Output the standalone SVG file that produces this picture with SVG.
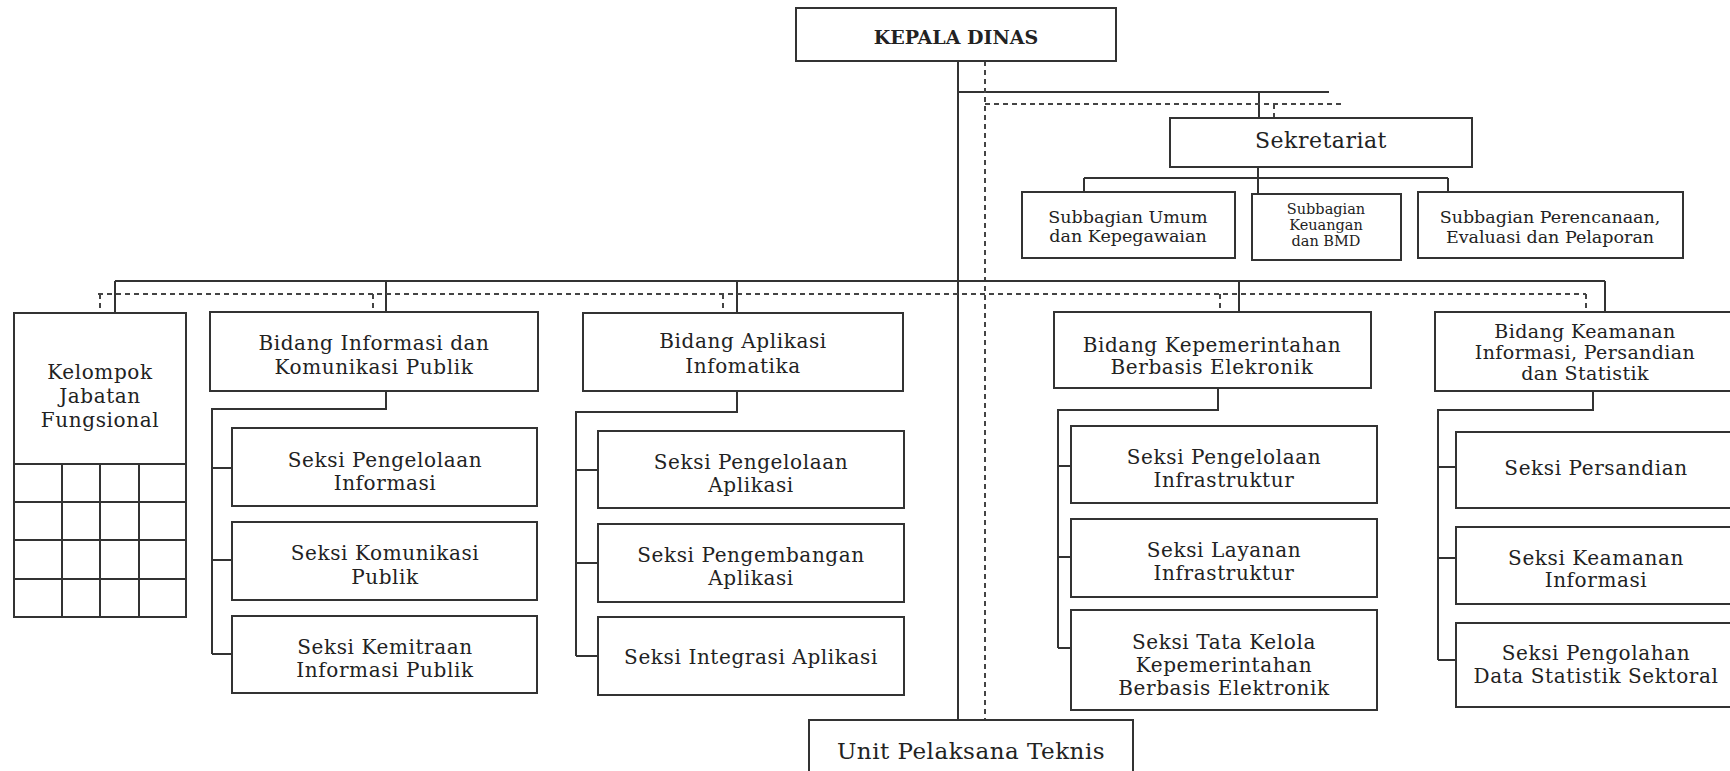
<svg xmlns="http://www.w3.org/2000/svg" width="1730" height="771" viewBox="0 0 1730 771">
<style>
rect.b{fill:#fff;stroke:#333;stroke-width:2}
.s{stroke:#333;stroke-width:2;fill:none}
.d{stroke:#444;stroke-width:2;fill:none;stroke-dasharray:5 4}
text{font-family:"DejaVu Serif","Liberation Serif",serif;fill:#222;text-anchor:middle}
.t20{font-size:20px;letter-spacing:0.6px}
.t19{font-size:19px;letter-spacing:0.4px}
.t17{font-size:17.5px}
.t15{font-size:14.5px}
.hd{font-size:19px;font-weight:bold}
.big{font-size:22px;letter-spacing:0.5px}
</style>
<rect width="1730" height="771" fill="#fff"/>
<g id="connectors">
<path class="s" d="M958 61V720M958 92H1329M1259 92V118M1258 167V194M1084 178H1448M1084 178V192M1448 178V192"/>
<path class="d" d="M985 61V720M985 104H1344M1274 104V118"/>
<path class="s" d="M115 281H1605M115 281V313M386 281V312M737 281V313M1239 281V312M1605 281V312"/>
<path class="d" d="M98 294H1586M100 294V313M373 294V312M723 294V313M1220 294V312M1586 294V312"/>
<path class="s" d="M386 391V409H212V654M212 468H232M212 560H232M212 654H232"/>
<path class="s" d="M737 391V412H576V656M576 470H598M576 563H598M576 656H598"/>
<path class="s" d="M1218 388V410H1058V648M1058 466H1071M1058 557H1071M1058 648H1071"/>
<path class="s" d="M1593 391V410H1438V660M1438 467H1456M1438 558H1456M1438 660H1456"/>
</g>
<g id="kepala-dinas"><rect class="b" x="796" y="8" width="320" height="53"/><text class="hd" x="956" y="44">KEPALA DINAS</text></g>
<g id="sekretariat"><rect class="b" x="1170" y="118" width="302" height="49"/><text class="big" x="1321" y="148">Sekretariat</text></g>
<g id="subbagian-umum"><rect class="b" x="1022" y="192" width="213" height="66"/><text class="t17" x="1128" y="223">Subbagian Umum</text><text class="t17" x="1128" y="242">dan Kepegawaian</text></g>
<g id="subbagian-keuangan"><rect class="b" x="1252" y="194" width="149" height="66"/><text class="t15" x="1326" y="214">Subbagian</text><text class="t15" x="1326" y="230">Keuangan</text><text class="t15" x="1326" y="246">dan BMD</text></g>
<g id="subbagian-perencanaan"><rect class="b" x="1418" y="192" width="265" height="66"/><text class="t17" x="1550" y="223">Subbagian Perencanaan,</text><text class="t17" x="1550" y="243">Evaluasi dan Pelaporan</text></g>
<g id="kelompok-jabatan-fungsional"><rect class="b" x="14" y="313" width="172" height="304"/><path class="s" d="M14 464H186M14 502H186M14 540H186M14 579H186M62 464V617M100 464V617M139 464V617"/><text class="t20" x="100" y="379">Kelompok</text><text class="t20" x="100" y="403">Jabatan</text><text class="t20" x="100" y="427">Fungsional</text></g>
<g id="bidang-informasi"><rect class="b" x="210" y="312" width="328" height="79"/><text class="t20" x="374" y="350">Bidang Informasi dan</text><text class="t20" x="374" y="374">Komunikasi Publik</text></g>
<g id="seksi-pengelolaan-informasi"><rect class="b" x="232" y="428" width="305" height="78"/><text class="t20" x="385" y="467">Seksi Pengelolaan</text><text class="t20" x="385" y="490">Informasi</text></g>
<g id="seksi-komunikasi-publik"><rect class="b" x="232" y="522" width="305" height="78"/><text class="t20" x="385" y="560">Seksi Komunikasi</text><text class="t20" x="385" y="584">Publik</text></g>
<g id="seksi-kemitraan"><rect class="b" x="232" y="616" width="305" height="77"/><text class="t20" x="385" y="654">Seksi Kemitraan</text><text class="t20" x="385" y="677">Informasi Publik</text></g>
<g id="bidang-aplikasi"><rect class="b" x="583" y="313" width="320" height="78"/><text class="t20" x="743" y="348">Bidang Aplikasi</text><text class="t20" x="743" y="373">Infomatika</text></g>
<g id="seksi-pengelolaan-aplikasi"><rect class="b" x="598" y="431" width="306" height="77"/><text class="t20" x="751" y="469">Seksi Pengelolaan</text><text class="t20" x="751" y="492">Aplikasi</text></g>
<g id="seksi-pengembangan-aplikasi"><rect class="b" x="598" y="524" width="306" height="78"/><text class="t20" x="751" y="562">Seksi Pengembangan</text><text class="t20" x="751" y="585">Aplikasi</text></g>
<g id="seksi-integrasi-aplikasi"><rect class="b" x="598" y="617" width="306" height="78"/><text class="t20" x="751" y="664">Seksi Integrasi Aplikasi</text></g>
<g id="bidang-kepemerintahan"><rect class="b" x="1054" y="312" width="317" height="76"/><text class="t20" x="1212" y="352">Bidang Kepemerintahan</text><text class="t20" x="1212" y="374">Berbasis Elekronik</text></g>
<g id="seksi-pengelolaan-infrastruktur"><rect class="b" x="1071" y="426" width="306" height="77"/><text class="t20" x="1224" y="464">Seksi Pengelolaan</text><text class="t20" x="1224" y="487">Infrastruktur</text></g>
<g id="seksi-layanan-infrastruktur"><rect class="b" x="1071" y="519" width="306" height="78"/><text class="t20" x="1224" y="557">Seksi Layanan</text><text class="t20" x="1224" y="580">Infrastruktur</text></g>
<g id="seksi-tata-kelola"><rect class="b" x="1071" y="610" width="306" height="100"/><text class="t20" x="1224" y="649">Seksi Tata Kelola</text><text class="t20" x="1224" y="672">Kepemerintahan</text><text class="t20" x="1224" y="695">Berbasis Elektronik</text></g>
<g id="bidang-keamanan"><rect class="b" x="1435" y="312" width="310" height="79"/><text class="t19" x="1585" y="338">Bidang Keamanan</text><text class="t19" x="1585" y="359">Informasi, Persandian</text><text class="t19" x="1585" y="380">dan Statistik</text></g>
<g id="seksi-persandian"><rect class="b" x="1456" y="432" width="290" height="76"/><text class="t20" x="1596" y="475">Seksi Persandian</text></g>
<g id="seksi-keamanan-informasi"><rect class="b" x="1456" y="527" width="290" height="77"/><text class="t20" x="1596" y="565">Seksi Keamanan</text><text class="t20" x="1596" y="587">Informasi</text></g>
<g id="seksi-pengolahan-data"><rect class="b" x="1456" y="623" width="290" height="84"/><text class="t20" x="1596" y="660">Seksi Pengolahan</text><text class="t20" x="1596" y="683">Data Statistik Sektoral</text></g>
<g id="unit-pelaksana-teknis"><rect class="b" x="809" y="720" width="324" height="70"/><text class="big" x="971" y="759" style="font-size:23px">Unit Pelaksana Teknis</text></g>
</svg>
